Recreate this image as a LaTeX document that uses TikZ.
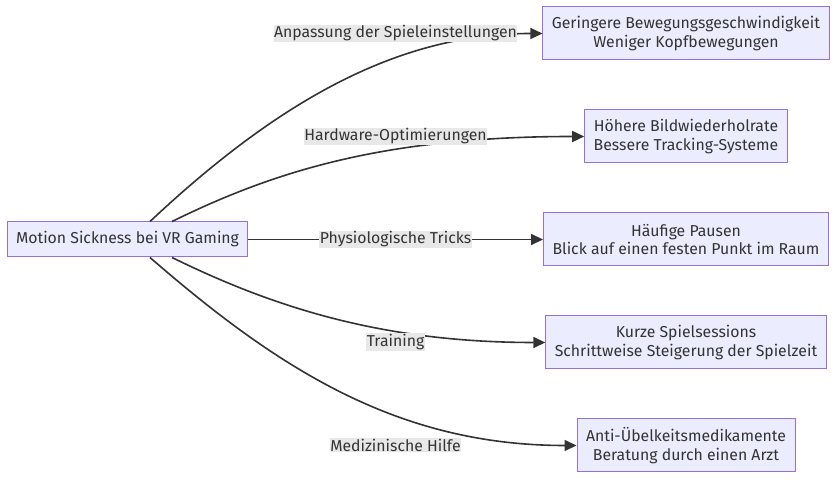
\documentclass[tikz,border=0pt]{standalone}
\usepackage{fontspec}
\setmainfont{Fira Sans}
\usetikzlibrary{arrows.meta}
\definecolor{boxfill}{HTML}{ECECFF}
\definecolor{boxline}{HTML}{9370DB}
\definecolor{edgeline}{HTML}{333333}
\definecolor{labelbg}{HTML}{E8E8E8}
\begin{document}
\begin{tikzpicture}[
            x=1pt,y=1pt,
            node distance=103pt,
            box/.style={rectangle,draw=boxline,fill=boxfill,line width=1pt,text=edgeline,minimum height=35pt,inner xsep=9pt,align=center,font=\fontsize{15.8}{18.5}\selectfont},
            tall/.style={box,minimum height=53pt},
            lbl/.style={fill=labelbg,text=edgeline,inner xsep=0.5pt,inner ysep=1pt,font=\fontsize{15.8}{18.5}\selectfont},
            link/.style={-{Triangle[length=12pt,width=11pt]},line width=1.6pt,draw=edgeline}
        ]
            \path[use as bounding box,fill=white] (0,0) rectangle (838,481);

            \node[box] (motion) at (127.5,241.5) {Motion Sickness bei VR Gaming};
            \node[tall,right of=motion,node distance=558.5pt] (tricks) {Häufige Pausen\\Blick auf einen festen Punkt im Raum};
            \node[tall,above of=tricks] (hardware) {Höhere Bildwiederholrate\\Bessere Tracking-Systeme};
            \node[tall,above of=hardware] (settings) {Geringere Bewegungsgeschwindigkeit\\Weniger Kopfbewegungen};
            \node[tall,below of=tricks] (training) {Kurze Spielsessions\\Schrittweise Steigerung der Spielzeit};
            \node[tall,below of=training] (medical) {Anti-Übelkeitsmedikamente\\Beratung durch einen Arzt};

            \draw[link] ([xshift=22.5pt]motion.north) .. controls +(130,122) and +(-143,0) .. (settings.west);
            \draw[link] ([xshift=44.5pt]motion.north) .. controls +(98,48) and +(-205,0) .. (hardware.west);
            \draw[link] (motion) -- (tricks);
            \draw[link] ([xshift=44.5pt]motion.south) .. controls +(98,-48) and +(-166,0) .. (training.west);
            \draw[link] ([xshift=22.5pt]motion.south) .. controls +(130,-113) and +(-177,0) .. (medical.west);

            \node[lbl] (l-settings) at (395.5,447.5) {Anpassung der Spieleinstellungen};
            \node[lbl] (l-hardware) at (395.5,344.5) {Hardware-Optimierungen};
            \node[lbl] (l-tricks) at (395.5,241.5) {Physiologische Tricks};
            \node[lbl] (l-training) at (395.5,139) {Training};
            \node[lbl] (l-medical) at (395.5,36) {Medizinische Hilfe};
        \end{tikzpicture}
\end{document}
